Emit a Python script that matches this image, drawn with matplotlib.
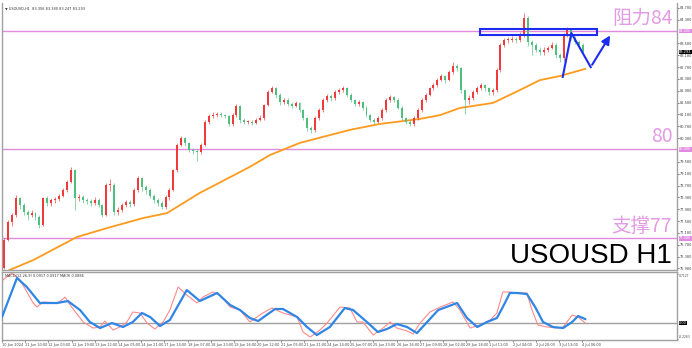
import matplotlib
matplotlib.use("Agg")
import matplotlib.pyplot as plt
from matplotlib.patches import Rectangle
import numpy as np

# ---------------- data ----------------
opens = [76.00, 76.94, 77.55, 77.78, 78.36, 78.12, 77.89, 77.78, 77.85, 77.72,
         77.45, 78.36, 78.19, 78.29, 78.32, 78.43, 78.63, 78.90, 79.30, 78.36,
         78.39, 78.29, 78.26, 78.19, 78.29, 78.12, 77.78, 78.80, 78.80, 77.89,
         77.95, 78.12, 78.22, 78.16, 78.63, 79.03, 78.73, 78.63, 78.43, 78.29,
         78.19, 78.05, 78.39, 78.63, 79.30, 80.15, 80.39, 80.22, 79.98, 79.95,
         79.91, 80.15, 80.93, 81.13, 81.16, 81.20, 81.16, 81.13, 80.86, 81.16,
         81.47, 80.99, 80.93, 80.93, 80.89, 80.99, 81.06, 81.50, 81.94, 82.07,
         81.84, 81.60, 81.67, 81.53, 81.47, 81.57, 81.33, 81.06, 80.72, 80.66,
         81.06, 81.33, 81.67, 81.80, 81.74, 81.94, 82.01, 82.07, 81.84, 81.67,
         81.53, 81.60, 81.40, 81.16, 80.99, 80.93, 81.06, 81.33, 81.67, 81.77,
         81.67, 81.40, 81.06, 80.93, 80.86, 81.06, 81.33, 81.67, 81.84, 82.07,
         82.18, 82.34, 82.48, 82.34, 82.61, 82.82, 82.75, 82.01, 81.67, 81.74,
         81.94, 82.07, 82.18, 82.07, 81.94, 82.01, 82.68, 83.53, 83.70, 83.70,
         83.73, 83.70, 83.86, 84.44, 83.63, 83.53, 83.36, 83.29, 83.36, 83.43,
         83.53, 83.19, 83.09, 83.86, 84.03, 83.76, 83.63, 83.53]
closes = [76.94, 77.55, 77.78, 78.36, 78.12, 77.89, 77.78, 77.85, 77.72, 77.45,
          78.36, 78.19, 78.29, 78.32, 78.43, 78.63, 78.90, 79.30, 78.36, 78.39,
          78.29, 78.26, 78.19, 78.29, 78.12, 77.78, 78.80, 78.80, 77.89, 77.95,
          78.12, 78.22, 78.16, 78.63, 79.03, 78.73, 78.63, 78.43, 78.29, 78.19,
          78.05, 78.39, 78.63, 79.30, 80.15, 80.39, 80.22, 79.98, 79.95, 79.91,
          80.15, 80.93, 81.13, 81.16, 81.20, 81.16, 81.13, 80.86, 81.16, 81.47,
          80.99, 80.93, 80.93, 80.89, 80.99, 81.06, 81.50, 81.94, 82.07, 81.84,
          81.60, 81.67, 81.53, 81.47, 81.57, 81.33, 81.06, 80.72, 80.66, 81.06,
          81.33, 81.67, 81.80, 81.74, 81.94, 82.01, 82.07, 81.84, 81.67, 81.53,
          81.60, 81.40, 81.16, 80.99, 80.93, 81.06, 81.33, 81.67, 81.77, 81.67,
          81.40, 81.06, 80.93, 80.86, 81.06, 81.33, 81.67, 81.84, 82.07, 82.18,
          82.34, 82.48, 82.34, 82.61, 82.82, 82.75, 82.01, 81.67, 81.74, 81.94,
          82.07, 82.18, 82.07, 81.94, 82.01, 82.68, 83.53, 83.70, 83.70, 83.73,
          83.70, 83.86, 84.44, 83.63, 83.53, 83.36, 83.29, 83.36, 83.43, 83.53,
          83.19, 83.09, 83.86, 84.03, 83.76, 83.63, 83.53, 83.29]
highs = [77.00, 77.60, 77.85, 78.45, 78.40, 78.20, 77.95, 77.95, 77.90, 77.80,
         78.40, 78.42, 78.35, 78.40, 78.50, 78.70, 78.95, 79.40, 79.35, 78.50,
         78.45, 78.35, 78.32, 78.38, 78.35, 78.15, 78.85, 79.00, 78.85, 78.05,
         78.20, 78.30, 78.30, 78.70, 79.10, 79.08, 78.80, 78.68, 78.50, 78.35,
         78.25, 78.45, 78.70, 79.35, 80.20, 80.45, 80.42, 80.25, 80.05, 80.00,
         80.20, 81.00, 81.20, 81.25, 81.25, 81.25, 81.20, 81.15, 81.22, 81.55,
         81.50, 81.05, 81.00, 80.98, 81.05, 81.15, 81.55, 82.00, 82.15, 82.10,
         81.90, 81.75, 81.72, 81.60, 81.65, 81.60, 81.38, 81.10, 80.80, 81.12,
         81.40, 81.72, 81.88, 81.88, 82.00, 82.08, 82.15, 82.10, 81.90, 81.70,
         81.68, 81.65, 81.45, 81.20, 81.05, 81.12, 81.40, 81.72, 81.85, 81.82,
         81.72, 81.45, 81.10, 81.00, 81.12, 81.40, 81.72, 81.90, 82.12, 82.25,
         82.40, 82.55, 82.52, 82.68, 82.95, 82.90, 82.80, 82.05, 81.85, 82.00,
         82.15, 82.25, 82.22, 82.10, 82.08, 82.75, 83.60, 83.78, 83.80, 83.82,
         83.80, 83.95, 84.62, 84.50, 83.70, 83.60, 83.45, 83.45, 83.50, 83.62,
         83.60, 83.25, 83.92, 84.12, 84.08, 83.82, 83.70, 83.58]
lows = [75.95, 76.90, 77.40, 77.70, 78.00, 77.80, 77.60, 77.70, 77.60, 77.35,
        77.40, 78.10, 78.10, 78.20, 78.25, 78.40, 78.55, 78.85, 77.95, 78.25,
        78.20, 78.15, 78.10, 78.12, 78.05, 77.70, 77.75, 78.60, 77.80, 77.80,
        77.90, 78.05, 78.05, 78.10, 78.55, 78.60, 78.50, 78.35, 78.20, 78.10,
        77.98, 78.00, 78.30, 78.60, 79.25, 80.10, 80.10, 79.90, 79.85, 79.62,
        79.85, 80.10, 80.85, 81.05, 81.10, 81.08, 81.05, 80.78, 80.80, 81.10,
        80.90, 80.85, 80.85, 80.82, 80.85, 80.95, 81.00, 81.45, 81.90, 81.75,
        81.50, 81.55, 81.45, 81.40, 81.42, 81.25, 81.00, 80.62, 80.55, 80.60,
        81.00, 81.28, 81.60, 81.65, 81.68, 81.88, 81.95, 81.78, 81.60, 81.45,
        81.48, 81.32, 81.10, 80.92, 80.85, 80.88, 81.00, 81.28, 81.60, 81.60,
        81.35, 81.00, 80.85, 80.78, 80.80, 81.00, 81.28, 81.60, 81.80, 82.00,
        82.10, 82.30, 82.25, 82.30, 82.55, 82.65, 81.90, 81.20, 81.55, 81.68,
        81.88, 82.00, 81.98, 81.85, 81.85, 81.95, 82.60, 83.45, 83.60, 83.62,
        83.60, 83.62, 83.80, 83.50, 83.20, 83.28, 83.20, 83.20, 83.30, 83.38,
        83.10, 82.95, 83.00, 83.80, 83.70, 83.55, 83.45, 83.22]

# moving average (orange), positions in candle index
ma_x = [1.5, 7.4, 18.5, 26.1, 35.3, 41.4, 49.7, 62.4, 67.5, 75.1, 87.8, 95.4,
        105.6, 110.7, 115.7, 124.1, 131.0, 136.0, 141.1, 147.5]
ma_y = [75.93, 76.26, 77.04, 77.34, 77.68, 77.85, 78.53, 79.41, 79.81, 80.22,
        80.66, 80.86, 81.03, 81.16, 81.40, 81.57, 82.01, 82.34, 82.48, 82.72]

# oscillator signal line (blue)
osc_blue_x = [-0.5, 3.3, 5.8, 9.1, 13.5, 16.2, 19.3, 21.8, 24.4, 27.4, 30.2, 32.7,
              35.0, 37.1, 39.6, 42.1, 46.4, 49.7, 54.1, 57.4, 59.9, 62.4, 64.5,
              68.8, 70.8, 74.4, 76.9, 79.4, 82.7, 86.5, 88.6, 92.1, 94.9, 97.2,
              99.7, 102.3, 104.8, 107.4, 110.2, 115.0, 117.5, 120.1, 122.6, 125.1,
              126.6, 128.4, 130.2, 132.7, 134.8, 136.8, 139.3, 141.9, 144.2,
              145.7, 147.5]
osc_blue_y = [0.087, 0.655, 0.524, 0.291, 0.291, 0.320, 0.189, 0.015, -0.073,
              0.000, -0.058, 0.015, 0.146, 0.087, -0.044, 0.044, 0.480, 0.320,
              0.437, 0.262, 0.189, 0.073, 0.029, 0.204, 0.204, 0.087, -0.058,
              -0.175, -0.058, 0.218, 0.189, 0.015, -0.131, -0.087, -0.015, -0.058,
              -0.146, 0.015, 0.189, 0.291, 0.073, -0.058, 0.015, 0.073, 0.233,
              0.437, 0.437, 0.422, 0.233, 0.015, -0.058, -0.073, 0.015, 0.102,
              0.058]
# oscillator main line (red)
osc_red_x = [-1.0, -0.3, 2.0, 4.1, 7.4, 8.4, 9.9, 13.5, 14.7, 15.5, 16.8, 20.1,
             22.6, 24.4, 25.6, 27.7, 29.4, 31.2, 32.7, 34.5, 36.3, 38.3, 40.4,
             42.1, 44.2, 46.4, 49.0, 50.5, 53.0, 54.8, 57.4, 59.9, 62.4, 65.7,
             68.0, 70.8, 74.4, 75.9, 77.7, 80.2, 82.0, 85.3, 87.8, 89.6, 91.1,
             93.7, 96.2, 98.0, 99.7, 102.3, 103.8, 105.6, 108.1, 110.7, 114.0,
             115.7, 118.3, 120.8, 123.4, 125.1, 126.6, 128.4, 130.2, 132.7,
             134.0, 135.5, 137.8, 140.4, 141.9, 144.2, 145.7, 147.5]
osc_red_y = [0.291, 0.626, 0.727, 0.626, 0.291, 0.233, 0.306, 0.291, 0.335,
             0.378, 0.262, 0.015, -0.073, -0.058, 0.029, -0.102, -0.058, 0.015,
             0.160, 0.146, 0.000, -0.087, 0.015, 0.189, 0.524, 0.407, 0.291,
             0.378, 0.451, 0.407, 0.233, 0.189, 0.015, 0.146, 0.218, 0.146,
             0.087, -0.131, -0.204, -0.102, 0.000, 0.233, 0.218, 0.015, 0.015,
             -0.175, -0.073, 0.015, -0.073, -0.116, -0.160, 0.000, 0.160, 0.233,
             0.306, 0.189, -0.073, -0.029, 0.044, 0.146, 0.451, 0.451, 0.437,
             0.437, 0.189, -0.029, -0.058, -0.073, -0.058, 0.116, 0.087, 0.000]

levels = [84.0, 80.0, 77.0]
level_labels = ["阻力84", "80", "支撑77"]
level_tags = ["84.000", "80.000", "77.000"]

box_x = [120.7, 150.4]
box_y = [83.86, 84.07]
path_x = [141.8, 144.0, 148.9, 154.2]
path_y = [82.45, 83.93, 82.78, 83.93]

time_labels = ["10 Jun 2024", "11 Jun 10:00", "12 Jun 03:00", "12 Jun 19:00",
               "13 Jun 12:00", "14 Jun 05:00", "14 Jun 21:00", "17 Jun 14:00",
               "18 Jun 07:00", "18 Jun 23:00", "19 Jun 16:00", "20 Jun 12:00",
               "21 Jun 05:00", "21 Jun 21:00", "24 Jun 14:00", "25 Jun 07:00",
               "25 Jun 23:00", "26 Jun 16:00", "27 Jun 09:00", "28 Jun 02:00",
               "28 Jun 18:00", "1 Jul 11:00", "2 Jul 04:00", "2 Jul 20:00",
               "3 Jul 13:00", "4 Jul 06:00"]
price_ticks = [75.98, 76.38, 76.78, 77.18, 77.58, 77.98, 78.38, 78.78, 79.18,
               79.58, 80.38, 80.78, 81.18, 81.58, 81.98, 82.38, 82.78, 83.18,
               83.58, 84.38, 84.78]
osc_ticks = [0.7127, -0.2263]
last_price = 83.293
symbol = "USOUSD H1"

# ---------------- drawing ----------------
UP = "#f23a3a"
DOWN = "#4fbf7f"
LEVEL = "#e08be0"
GRID = "#a0a0a0"
SMALL = 2.5

fig = plt.figure(figsize=(6.92, 3.48), dpi=100)
W, H = 692.0, 348.0
ax = fig.add_axes([2 / W, 1 - 270 / H, 675 / W, 267 / H])
ax2 = fig.add_axes([2 / W, 1 - 340 / H, 675 / W, 68 / H], sharex=ax)

o = np.array(opens); c = np.array(closes)
hi = np.array(highs); lo = np.array(lows)
x = np.arange(len(c))
up = c >= o
cols = np.where(up, UP, DOWN)
ax.vlines(x, lo, hi, colors=cols, linewidth=0.6, alpha=0.75, zorder=3)
body = np.maximum(np.abs(c - o), 0.015)
ax.bar(x, body, bottom=np.minimum(o, c), width=0.5, color=cols,
       linewidth=0, zorder=4)

ax.plot(ma_x, ma_y, color="#ff9a1c", linewidth=1.3, zorder=2)

for lv in levels:
    ax.axhline(lv, color=LEVEL, linewidth=1.0, zorder=1)

cjk = ["Noto Sans CJK SC", "DejaVu Sans"]
ax.text(169.6, 84.08, level_labels[0], ha="right", va="bottom", fontsize=14,
        color="#e39be3", family=cjk)
ax.text(169.6, 80.08, level_labels[1], ha="right", va="bottom", fontsize=14,
        color="#e39be3", family=cjk)
ax.text(169.6, 77.04, level_labels[2], ha="right", va="bottom", fontsize=14,
        color="#e39be3", family=cjk)
ax.text(169.6, 75.96, symbol, ha="right", va="bottom", fontsize=20,
        color="black", family="Liberation Sans")

ax.add_patch(Rectangle((box_x[0], box_y[0]), box_x[1] - box_x[0],
                       box_y[1] - box_y[0], fill=False, edgecolor="#1c2cf0",
                       linewidth=1.5, zorder=6))
ax.plot(path_x[:-1], path_y[:-1], color="#1c2cf0", linewidth=1.5, zorder=7)
ax.annotate("", xy=(path_x[-1], path_y[-1]), xytext=(path_x[-2], path_y[-2]),
            arrowprops=dict(arrowstyle="-|>,head_length=0.5,head_width=0.25",
                            color="#1c2cf0", lw=1.5), zorder=7)

ax.set_xlim(-0.5, 170.8)
ax.set_ylim(75.926, 84.946)
ax.yaxis.tick_right()
ax.set_yticks(price_ticks)
ax.set_yticklabels([f"{p:.3f}" for p in price_ticks])
ax.tick_params(axis="y", labelsize=SMALL, length=1.5, width=0.5, pad=0.8,
               colors="#444444")
ax.tick_params(axis="x", bottom=False, labelbottom=False)
for s in ax.spines.values():
    s.set_color(GRID); s.set_linewidth(1.0)
ax.spines["top"].set_visible(False)

ytr = ax.get_yaxis_transform()
for lv, tag in zip(levels, level_tags):
    ax.text(1.003, lv, tag, transform=ytr, fontsize=SMALL, color="white",
            va="center", ha="left",
            bbox=dict(facecolor=LEVEL, edgecolor="none", pad=0.3))
ax.text(1.003, last_price, f"{last_price:.3f}", transform=ytr, fontsize=SMALL,
        color="white", va="center", ha="left",
        bbox=dict(facecolor="black", edgecolor="none", pad=0.3))
ax.text(0.004, 0.985, "\u25bc USOUSD,H1  83.356 83.380 83.247 83.293",
        transform=ax.transAxes, fontsize=SMALL, va="top", color="#333333")

# oscillator
ax2.axhline(0, color=GRID, linewidth=1.0, zorder=1)
ax2.plot(osc_red_x, osc_red_y, color="#ff8a8a", linewidth=0.8, zorder=2)
ax2.plot(osc_blue_x, osc_blue_y, color="#2f86e6", linewidth=1.6, zorder=3)
ax2.set_ylim(-0.247, 0.742)
ax2.yaxis.tick_right()
ax2.set_yticks(osc_ticks)
ax2.set_yticklabels([f"{v:.4f}" for v in osc_ticks])
ax2.tick_params(axis="y", labelsize=2.2, length=1.0, width=0.5, pad=0.4,
                colors="#444444")
ylabs = ax2.get_yticklabels()
ylabs[0].set_va("top")
ylabs[-1].set_va("bottom")
ax2.text(1.003, 0.0, "0.00", transform=ax2.get_yaxis_transform(),
         fontsize=SMALL, color="white", va="center", ha="left",
         bbox=dict(facecolor="black", edgecolor="none", pad=0.3))
ax2.text(0.004, 0.97, "MACD(12,26,9) 0.0917 0.0917 MA(9) 0.0886",
         transform=ax2.transAxes, fontsize=SMALL, va="top", color="#333333")
tick_x = -0.5 + 5.89 * np.arange(len(time_labels))
ax2.set_xticks(tick_x)
ax2.set_xticklabels(time_labels, ha="left")
ax2.tick_params(axis="x", labelsize=SMALL, length=1.5, width=0.5, pad=0.8,
                colors="#444444")
for s in ax2.spines.values():
    s.set_color(GRID); s.set_linewidth(1.0)

fig.savefig("out.png", dpi=100, facecolor="white")
